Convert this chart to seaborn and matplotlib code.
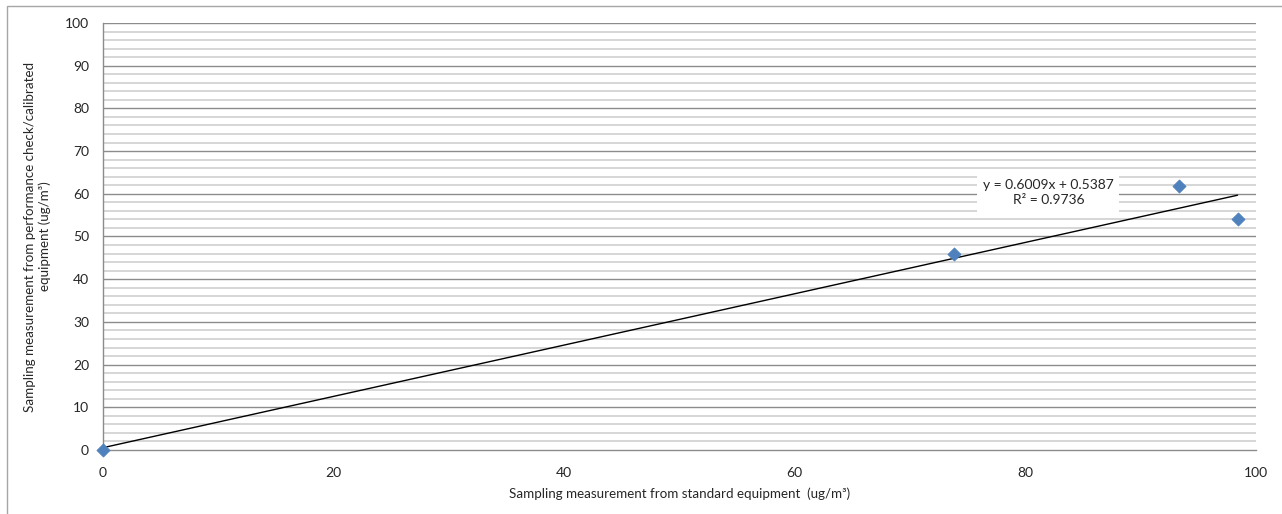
import numpy as np
import pandas as pd
import seaborn as sns
import matplotlib.pyplot as plt
from matplotlib.patches import Rectangle

# datos
standard = [0, 73.8, 93.3, 98.4]
calibrated = [0, 46.0, 61.8, 54.0]
slope = 0.6009
intercept = 0.5387
r_squared = 0.9736

df = pd.DataFrame({"standard": standard, "calibrated": calibrated})

sns.set_style("white")
plt.rcParams['font.family'] = ['Lato', 'DejaVu Sans']

fig = plt.figure(figsize=(12.82, 5.14), dpi=100)
ax = fig.add_axes([0.0803, 0.1245, 0.8994, 0.8308])

# líneas de cuadrícula horizontales
for v in np.arange(2, 101, 2):
    major = (v % 10 == 0)
    ax.axhline(v, color='#8c8c8c' if major else '#cfcfcf', lw=1.0 if major else 1.2, zorder=0)

# línea de tendencia
xs = np.array([0, max(standard)])
ax.plot(xs, slope * xs + intercept, color='black', lw=1.0, zorder=2)

sns.scatterplot(data=df, x="standard", y="calibrated", marker='D', s=45,
                color='#4f81bd', edgecolor='#4f81bd', ax=ax, zorder=3, clip_on=False)

ax.text(82.0, 60.3, f"y = {slope}x + {intercept}\nR² = {r_squared}", ha='center', va='center',
        fontsize=10, linespacing=1.35, zorder=4,
        bbox=dict(facecolor='white', edgecolor='none', pad=4))

ax.set_xlim(0, 100)
ax.set_ylim(0, 100)
ax.set_xticks(range(0, 101, 20))
ax.set_yticks(range(0, 101, 10))
ax.tick_params(axis='x', length=4, color='#8c8c8c', pad=8, labelsize=10)
ax.tick_params(axis='y', length=4, color='#8c8c8c', pad=6, labelsize=10)
for s in ['top', 'right']:
    ax.spines[s].set_visible(False)
for s in ['left', 'bottom']:
    ax.spines[s].set_color('#8c8c8c')
    ax.spines[s].set_linewidth(1.0)

ax.set_xlabel("Sampling measurement from standard equipment  (ug/m³)", fontsize=9.6, labelpad=6)
ax.set_ylabel("Sampling measurement from performance check/calibrated\nequipment (ug/m³)",
              fontsize=9.6, labelpad=10)

# borde exterior del gráfico
fig.patches.append(Rectangle((7 / 1282, -0.1), 1.2, 1 - 6 / 514 + 0.1, transform=fig.transFigure,
                             fill=False, edgecolor='#a6a6a6', lw=1.0))

fig.savefig("out.png", dpi=100)
